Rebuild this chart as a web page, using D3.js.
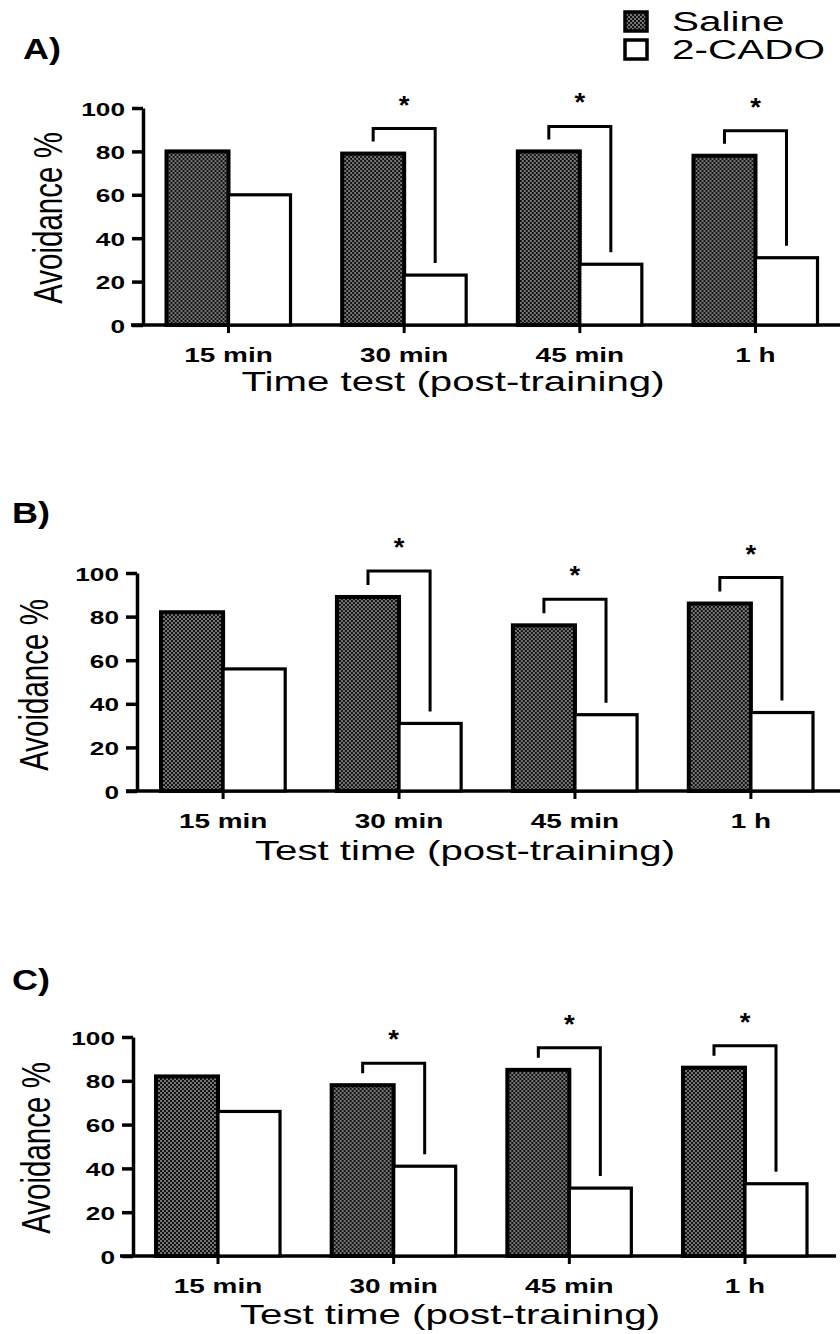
<!DOCTYPE html>
<html><head><meta charset="utf-8">
<script src="https://cdn.jsdelivr.net/npm/d3@7"></script>
<style>body{margin:0;background:#fff} svg{display:block}</style>
</head><body>
<script>
// ---- data ----
const categories = ["15 min", "30 min", "45 min", "1 h"];
const seriesNames = ["Saline", "2-CADO"];
const yTicks = [0, 20, 40, 60, 80, 100];
const panelLabels = ["A)", "B)", "C)"];
const xTitles = ["Time test (post-training)", "Test time (post-training)", "Test time (post-training)"];
const yTitle = "Avoidance %";
const salineA = [80, 79, 80, 78];
const cadoA   = [60, 23, 28, 31];
const salineB = [82, 89, 76, 86];
const cadoB   = [56, 31, 35, 36];
const salineC = [82, 78, 85, 86];
const cadoC   = [66, 41, 31, 33];
const significant = [false, true, true, true];

const panelsData = [
  {saline: salineA, cado: cadoA},
  {saline: salineB, cado: cadoB},
  {saline: salineC, cado: cadoC}
];

// ---- layout (positions only) ----
const layouts = [
  {axisX:143, y0:325, y100:108, xr:[166.5,817.5], xLineStart:131, xLineEnd:840, labelBase:362, titleX:453, titleBase:391, yTitleX:62, yTitleY:218, pX:23, pY:59, gap:25},
  {axisX:137, y0:791, y100:573, xr:[161,813], xLineStart:126, xLineEnd:840, labelBase:828, titleX:465, titleBase:860, yTitleX:48, yTitleY:685, pX:12, pY:523, gap:26},
  {axisX:133, y0:1256, y100:1037, xr:[156,807], xLineStart:120, xLineEnd:836, labelBase:1293, titleX:450, titleBase:1324, yTitleX:50, yTitleY:1148, pX:12, pY:990, gap:22}
];

const FONT = "'Liberation Sans', Arial, Helvetica, sans-serif";
const W = 840, H = 1334;
const svg = d3.select("body").append("svg").attr("width", W).attr("height", H);

// halftone pattern for Saline
const defs = svg.append("defs");
const pat = defs.append("pattern").attr("id","halftone").attr("patternUnits","userSpaceOnUse")
  .attr("width",4).attr("height",4);
pat.append("rect").attr("width",4).attr("height",4).attr("fill","#141414");
pat.append("circle").attr("cx",1).attr("cy",1).attr("r",0.8).attr("fill","#eeeeee");
pat.append("circle").attr("cx",3).attr("cy",3).attr("r",0.8).attr("fill","#eeeeee");

const fills = {"Saline":"url(#halftone)", "2-CADO":"#ffffff"};

function addText(g, str, x, y, size, weight, sx, anchor, rot) {
  return g.append("text")
    .attr("transform", `translate(${x},${y})` + (rot ? ` rotate(${rot})` : "") + ` scale(${sx},1)`)
    .attr("text-anchor", anchor || "start")
    .attr("font-family", FONT).attr("font-size", size).attr("font-weight", weight)
    .attr("fill", "#000").text(str);
}

panelsData.forEach((pd, i) => {
  const L = layouts[i];
  const g = svg.append("g");
  const y = d3.scaleLinear().domain([0, 100]).range([L.y0, L.y100]);
  const x0 = d3.scaleBand().domain(categories).range(L.xr).paddingInner(0.294).paddingOuter(0);
  const x1 = d3.scaleBand().domain(seriesNames).range([0, x0.bandwidth()]).padding(0);

  // x baseline
  g.append("line").attr("x1", L.xLineStart).attr("x2", L.xLineEnd)
    .attr("y1", L.y0).attr("y2", L.y0).attr("stroke","#000").attr("stroke-width",3.5);

  // bars
  const rows = categories.map((c, k) => ({cat:c, values:[
    {s:"Saline", v:pd.saline[k]}, {s:"2-CADO", v:pd.cado[k]}]}));
  const cg = g.selectAll("g.cat").data(rows).join("g").attr("class","cat")
    .attr("transform", d => `translate(${x0(d.cat)},0)`);
  cg.selectAll("rect").data(d => d.values).join("rect")
    .attr("x", d => x1(d.s)).attr("width", x1.bandwidth())
    .attr("y", d => y(d.v)).attr("height", d => L.y0 - y(d.v))
    .attr("fill", d => fills[d.s]).attr("stroke","#000")
    .attr("stroke-width", d => d.s === "Saline" ? 4 : 3.2);

  // y axis
  const ya = g.append("g").attr("transform", `translate(${L.axisX},0)`)
    .call(d3.axisLeft(y).tickValues(yTicks).tickSize(11).tickSizeOuter(0));
  ya.select(".domain").attr("stroke-width",3.5);
  ya.selectAll(".tick line").attr("stroke-width",3.5);
  ya.selectAll(".tick text").attr("x",0).attr("dy",null)
    .attr("transform","translate(-18,7) scale(1.38,1)")
    .attr("font-family",FONT).attr("font-size",19).attr("font-weight","bold").attr("fill","#000");

  // x axis ticks + labels
  const xa = g.append("g").attr("transform", `translate(0,${L.y0})`)
    .call(d3.axisBottom(x0).tickSize(8).tickSizeOuter(0));
  xa.select(".domain").remove();
  xa.selectAll(".tick line").attr("stroke-width",3);
  xa.selectAll(".tick text").attr("y",0).attr("dy",null)
    .attr("transform",`translate(0,${L.labelBase - L.y0}) scale(1.33,1)`)
    .attr("font-family",FONT).attr("font-size",21).attr("font-weight","bold").attr("fill","#000");

  // significance brackets
  categories.forEach((c, k) => {
    if (!significant[k]) return;
    const xl = x0(c) + x1("Saline") + x1.bandwidth()/2;
    const xr = x0(c) + x1("2-CADO") + x1.bandwidth()/2;
    const ys = y(pd.saline[k]), yc = y(pd.cado[k]);
    const top = ys - L.gap;
    g.append("path")
      .attr("d", `M${xl},${ys - 12}V${top}H${xr}V${yc - 12}`)
      .attr("fill","none").attr("stroke","#000").attr("stroke-width",3);
    addText(g, "*", (xl + xr)/2, top - 15, 25, "bold", 1.1, "middle");
  });

  // titles
  addText(g, xTitles[i], L.titleX, L.titleBase, 27, "normal", 1.49, "middle");
  addText(g, yTitle, L.yTitleX, L.yTitleY, 41, "normal", 0.72, "middle", -90);
  addText(g, panelLabels[i], L.pX, L.pY, 30, "bold", 1.2, "start");
});

// legend
const lg = svg.append("g");
seriesNames.forEach((s, k) => {
  lg.append("rect").attr("x", 625).attr("y", 12 + k*28).attr("width", 22).attr("height", 19)
    .attr("fill", fills[s]).attr("stroke","#000").attr("stroke-width",3.5);
  addText(lg, s, 672, 31 + k*28, 27, "normal", 1.5, "start");
});
</script>
</body></html>
